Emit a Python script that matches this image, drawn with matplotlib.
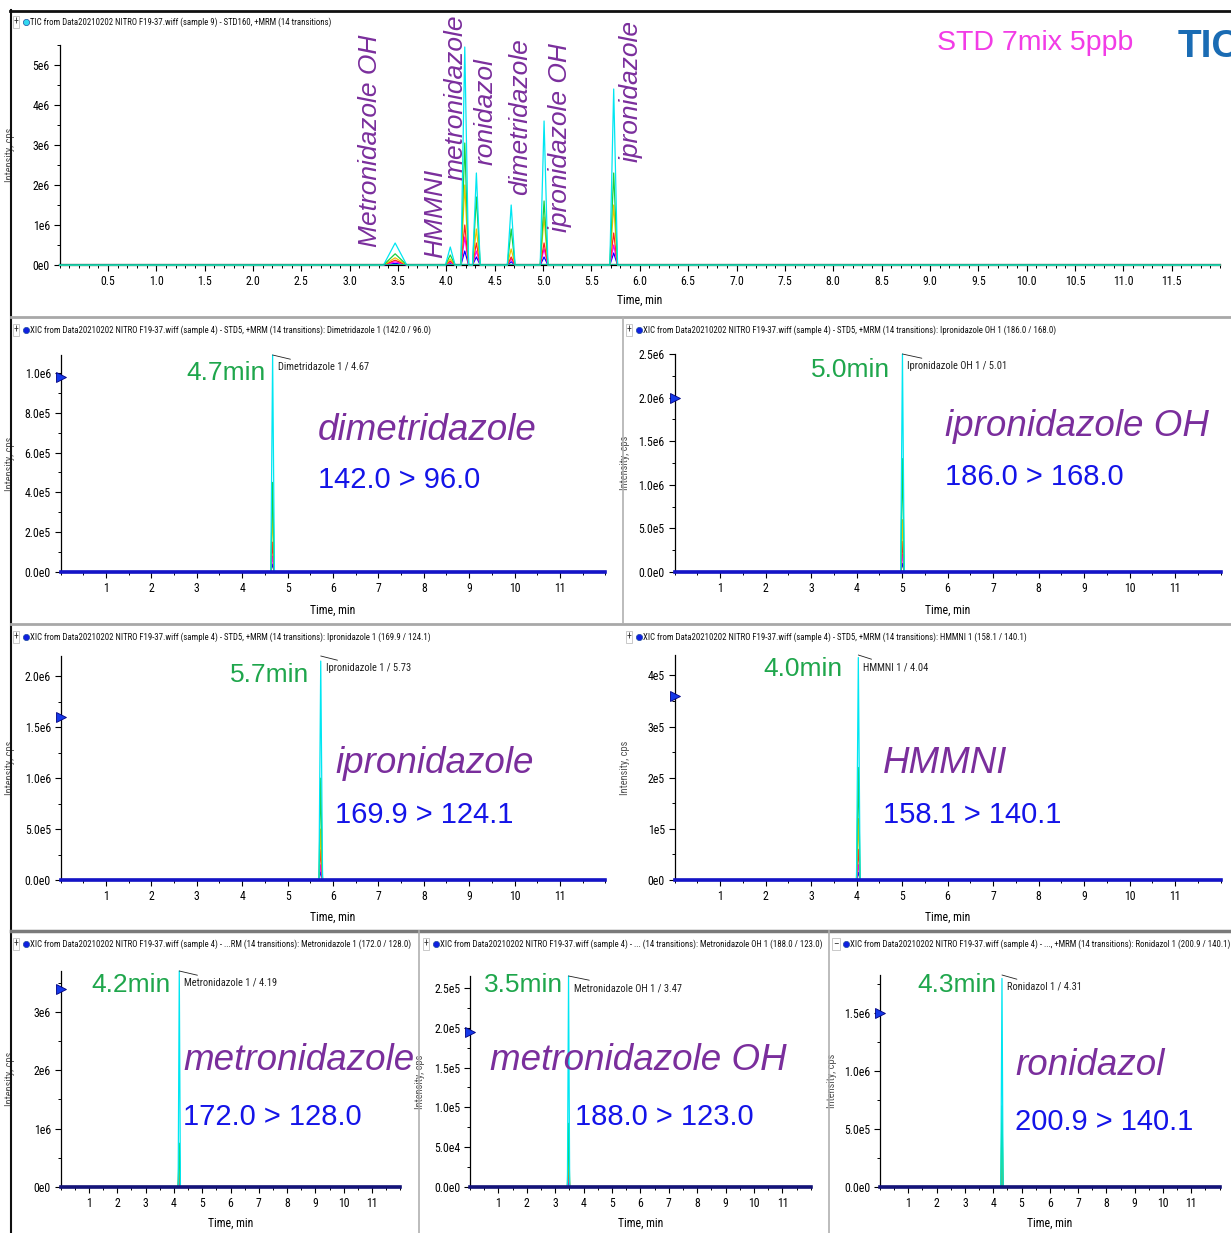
import matplotlib
matplotlib.use('Agg')
import matplotlib.pyplot as plt
from matplotlib import font_manager
from matplotlib.ticker import FixedLocator, FixedFormatter, MultipleLocator

W, H = 1231, 1233
ARIAL = ['Liberation Sans', 'DejaVu Sans']

# the instrument software uses a narrow font; take one if it is there
installed = {f.name for f in font_manager.fontManager.ttflist}
NARROW, SMALL = ['Liberation Sans', 'DejaVu Sans'], 0.80
for cand in ['Liberation Sans Narrow', 'Roboto Condensed', 'Open Sans Condensed',
             'Noto Sans Condensed']:
    if cand in installed:
        NARROW, SMALL = [cand, 'DejaVu Sans'], 1.0
        break
plt.rcParams['font.family'] = NARROW

# colours of the MRM transitions (tallest first)
trace_colors = ['#00E6F2', '#18D040', '#F2C200', '#FF2020', '#FF00FF', '#0000FF']

# ---- TIC (sample 9, STD160) ----
tic_rt = [3.47, 4.04, 4.19, 4.31, 4.67, 5.01, 5.73]
tic_width = [0.12, 0.05, 0.04, 0.04, 0.04, 0.04, 0.04]
tic_cyan = [0.55e6, 0.45e6, 5.45e6, 2.3e6, 1.5e6, 3.6e6, 4.4e6]
tic_green = [0.28e6, 0.25e6, 3.05e6, 1.7e6, 0.9e6, 1.6e6, 2.3e6]
tic_yellow = [0.18e6, 0.15e6, 2.0e6, 0.9e6, 0.4e6, 1.2e6, 1.5e6]
tic_red = [0.12e6, 0.10e6, 1.0e6, 0.55e6, 0.2e6, 0.55e6, 0.8e6]
tic_magenta = [0.08e6, 0.07e6, 0.7e6, 0.35e6, 0.15e6, 0.4e6, 0.5e6]
tic_blue = [0.04e6, 0.03e6, 0.35e6, 0.2e6, 0.08e6, 0.2e6, 0.3e6]
tic_xticks = [0.5, 1.0, 1.5, 2.0, 2.5, 3.0, 3.5, 4.0, 4.5, 5.0, 5.5, 6.0,
              6.5, 7.0, 7.5, 8.0, 8.5, 9.0, 9.5, 10.0, 10.5, 11.0, 11.5]
tic_xlabels = ['%.1f' % v for v in tic_xticks]
tic_yticks = [0, 1e6, 2e6, 3e6, 4e6, 5e6]
tic_ylabels = ['0e0', '1e6', '2e6', '3e6', '4e6', '5e6']
tic_names = ['Metronidazole OH', 'HMMNI', 'metronidazole', 'ronidazol',
             'dimetridazole', 'ipronidazole OH', 'ipronidazole']

xic_xticks = [1, 2, 3, 4, 5, 6, 7, 8, 9, 10, 11]

# ---- XIC panels (sample 4, STD5) ----
dim_rt = 4.67
dim_heights = [1.09e6, 0.45e6, 0.30e6, 0.15e6, 0.08e6, 0.04e6]
dim_yticks = [0, 2e5, 4e5, 6e5, 8e5, 1e6]
dim_ylabels = ['0.0e0', '2.0e5', '4.0e5', '6.0e5', '8.0e5', '1.0e6']

ipoh_rt = 5.01
ipoh_heights = [2.5e6, 1.3e6, 0.6e6, 0.35e6, 0.2e6, 0.1e6]
ipoh_yticks = [0, 5e5, 1e6, 1.5e6, 2e6, 2.5e6]
ipoh_ylabels = ['0.0e0', '5.0e5', '1.0e6', '1.5e6', '2.0e6', '2.5e6']

ipr_rt = 5.73
ipr_heights = [2.15e6, 1.0e6, 0.5e6, 0.3e6, 0.15e6, 0.08e6]
ipr_yticks = [0, 5e5, 1e6, 1.5e6, 2e6]
ipr_ylabels = ['0.0e0', '5.0e5', '1.0e6', '1.5e6', '2.0e6']

hmm_rt = 4.04
hmm_heights = [4.35e5, 2.2e5, 1.2e5, 0.6e5, 0.3e5, 0.15e5]
hmm_yticks = [0, 1e5, 2e5, 3e5, 4e5]
hmm_ylabels = ['0e0', '1e5', '2e5', '3e5', '4e5']

met_rt = 4.19
met_heights = [3.7e6, 0.75e6, 0.6e6, 0.3e6, 0.15e6, 0.08e6]
met_yticks = [0, 1e6, 2e6, 3e6]
met_ylabels = ['0e0', '1e6', '2e6', '3e6']

moh_rt = 3.47
moh_heights = [2.65e5, 0.8e5, 0.5e5, 0.3e5, 0.15e5, 0.08e5]
moh_yticks = [0, 5e4, 1e5, 1.5e5, 2e5, 2.5e5]
moh_ylabels = ['0.0e0', '5.0e4', '1.0e5', '1.5e5', '2.0e5', '2.5e5']

ron_rt = 4.31
ron_heights = [1.8e6, 0.7e6, 0.55e6, 0.25e6, 0.15e6, 0.07e6]
ron_yticks = [0, 5e5, 1e6, 1.5e6]
ron_ylabels = ['0.0e0', '5.0e5', '1.0e6', '1.5e6']

marker_levels = [0.98e6, 2.0e6, 1.6e6, 3.6e5, 3.4e6, 1.95e5, 1.5e6]

headers = [
    'TIC from Data20210202 NITRO F19-37.wiff (sample 9) - STD160, +MRM (14 transitions)',
    'XIC from Data20210202 NITRO F19-37.wiff (sample 4) - STD5, +MRM (14 transitions): Dimetridazole 1 (142.0 / 96.0)',
    'XIC from Data20210202 NITRO F19-37.wiff (sample 4) - STD5, +MRM (14 transitions): Ipronidazole OH 1 (186.0 / 168.0)',
    'XIC from Data20210202 NITRO F19-37.wiff (sample 4) - STD5, +MRM (14 transitions): Ipronidazole 1 (169.9 / 124.1)',
    'XIC from Data20210202 NITRO F19-37.wiff (sample 4) - STD5, +MRM (14 transitions): HMMNI 1 (158.1 / 140.1)',
    'XIC from Data20210202 NITRO F19-37.wiff (sample 4) - ...RM (14 transitions): Metronidazole 1 (172.0 / 128.0)',
    'XIC from Data20210202 NITRO F19-37.wiff (sample 4) - ... (14 transitions): Metronidazole OH 1 (188.0 / 123.0)',
    'XIC from Data20210202 NITRO F19-37.wiff (sample 4) - ..., +MRM (14 transitions): Ronidazol 1 (200.9 / 140.1)',
]
peak_labels = ['Dimetridazole 1 / 4.67', 'Ipronidazole OH 1 / 5.01', 'Ipronidazole 1 / 5.73',
               'HMMNI 1 / 4.04', 'Metronidazole 1 / 4.19', 'Metronidazole OH 1 / 3.47',
               'Ronidazol 1 / 4.31']
compounds = ['dimetridazole', 'ipronidazole OH', 'ipronidazole', 'HMMNI',
             'metronidazole', 'metronidazole OH', 'ronidazol']
transitions = ['142.0 > 96.0', '186.0 > 168.0', '169.9 > 124.1', '158.1 > 140.1',
               '172.0 > 128.0', '188.0 > 123.0', '200.9 > 140.1']
rt_texts = ['4.7min', '5.0min', '5.7min', '4.0min', '4.2min', '3.5min', '4.3min']

PURPLE = '#7A2E9C'
GREEN = '#1FA64C'
BLUE = '#1414E8'


def px_axes(fig, x0, x1, y0, ytop):
    return fig.add_axes([x0 / W, 1 - y0 / H, (x1 - x0) / W, (y0 - ytop) / H])


def draw_trace(ax, rts, widths, heights, color, lw, xmax=12.0):
    xs, ys = [0], [0]
    for rt, w, h in zip(rts, widths, heights):
        xs += [rt - w, rt, rt + w]
        ys += [0, h, 0]
    xs.append(xmax)
    ys.append(0)
    ax.plot(xs, ys, color=color, lw=lw, zorder=3, clip_on=False)


def style_axes(ax, xt, xl, yt, yl, ymax, xminor, yminor):
    ax.set_xlim(0, 12.0)
    ax.set_ylim(0, ymax)
    for s in ['top', 'right']:
        ax.spines[s].set_visible(False)
    ax.spines['left'].set_linewidth(0.9)
    ax.spines['bottom'].set_linewidth(1.6)
    ax.xaxis.set_major_locator(FixedLocator(xt))
    ax.xaxis.set_major_formatter(FixedFormatter(xl))
    ax.yaxis.set_major_locator(FixedLocator(yt))
    ax.yaxis.set_major_formatter(FixedFormatter(yl))
    ax.xaxis.set_minor_locator(MultipleLocator(xminor))
    ax.yaxis.set_minor_locator(MultipleLocator(yminor))
    ax.tick_params(which='major', direction='out', length=4, width=0.8,
                   labelsize=8.5 * SMALL, pad=3)
    ax.tick_params(which='minor', direction='out', length=2, width=0.7)
    ax.patch.set_alpha(0)


def axis_titles(ax, x0, x1, y0, ytop, ylab_x, xlab_y):
    ax.set_xlabel('Time, min', fontsize=8.5 * SMALL)
    ax.xaxis.set_label_coords(0.5, -(xlab_y - y0) / (y0 - ytop))
    ax.set_ylabel('Intensity, cps', fontsize=7.5 * SMALL, color='#505050')
    ax.yaxis.set_label_coords((ylab_x - x0) / (x1 - x0), 0.5)


fig = plt.figure(figsize=(W / 100, H / 100), dpi=100)

# ---- TIC panel ----
ax = px_axes(fig, 59.6, 1220, 265, 45)
style_axes(ax, tic_xticks, tic_xlabels, tic_yticks, tic_ylabels, 5.5e6, 0.1, 5e5)
tic_sets = [tic_cyan, tic_green, tic_yellow, tic_red, tic_magenta, tic_blue]
for c, hs in reversed(list(zip(trace_colors, tic_sets))):
    draw_trace(ax, tic_rt, tic_width, hs, c, 0.9)
ax.plot([0, 12], [0, 0], color='#18B898', lw=1.4, zorder=4)
axis_titles(ax, 59.6, 1220, 265, 45, 15, 294)

# ---- XIC panels ----
geom = [
    (60.6, 605.4, 572, 355, 1.09e6, 15, 604),
    (674.5, 1220.5, 572, 354, 2.5e6, 630, 604),
    (60.6, 605.4, 880, 656, 2.2e6, 15, 911),
    (674.5, 1220.5, 880, 655, 4.4e5, 630, 911),
    (60.7, 400.3, 1187, 971, 3.7e6, 15, 1217),
    (470.0, 810.8, 1187, 976, 2.65e5, 425, 1217),
    (880.0, 1219.6, 1187, 975, 1.83e6, 837, 1217),
]
xic_rt = [dim_rt, ipoh_rt, ipr_rt, hmm_rt, met_rt, moh_rt, ron_rt]
xic_heights = [dim_heights, ipoh_heights, ipr_heights, hmm_heights,
               met_heights, moh_heights, ron_heights]
xic_yt = [dim_yticks, ipoh_yticks, ipr_yticks, hmm_yticks, met_yticks, moh_yticks, ron_yticks]
xic_yl = [dim_ylabels, ipoh_ylabels, ipr_ylabels, hmm_ylabels, met_ylabels,
          moh_ylabels, ron_ylabels]

for i, (x0, x1, y0, yt, ymax, ylx, xly) in enumerate(geom):
    ax = px_axes(fig, x0, x1, y0, yt)
    step = xic_yt[i][1]
    style_axes(ax, xic_xticks, [str(v) for v in xic_xticks], xic_yt[i], xic_yl[i],
               ymax, 0.5, step / 2)
    for c, h in reversed(list(zip(trace_colors, xic_heights[i]))):
        draw_trace(ax, [xic_rt[i]], [0.04], [h], c, 0.9)
    base = '#1414C8' if i < 4 else '#14147A'
    ax.plot([0, 12], [0, 0], color=base, lw=2.6, zorder=4, clip_on=False)
    ax.plot(0.0, marker_levels[i], marker='>', ms=7, color='#1438E8', mec='#000080',
            mew=0.6, clip_on=False, zorder=5)
    ax.annotate(peak_labels[i], xy=(xic_rt[i], ymax), xytext=(5, -15),
                textcoords='offset pixels', fontsize=7.5 * SMALL, color='#202020',
                arrowprops=dict(arrowstyle='-', lw=0.6, color='#202020',
                                shrinkA=0, shrinkB=0))
    axis_titles(ax, x0, x1, y0, yt, ylx, xly)

# ---- overlay: frames, headers and annotations in pixel units ----
ov = fig.add_axes([0, 0, 1, 1])
ov.set_xlim(0, W)
ov.set_ylim(H, 0)
ov.axis('off')
ov.set_zorder(10)
ov.patch.set_alpha(0)

ov.plot([10, W], [11, 11], color='#101010', lw=2)
ov.plot([10.5, 10.5], [10, H], color='#101010', lw=1.5)
for y in [316.5, 623.5]:
    ov.plot([11, W], [y, y], color='#A8A8A8', lw=2)
ov.plot([11, W], [930.5, 930.5], color='#7A7A7A', lw=2.5)
ov.plot([623, 623], [317, 623], color='#B0B0B0', lw=1.2)
ov.plot([419, 419], [931, H], color='#B0B0B0', lw=1.2)
ov.plot([829, 829], [931, H], color='#B0B0B0', lw=1.2)

header_pos = [(30, 22, '#30D8F0'), (30, 330, '#1020E0'), (643, 330, '#1020E0'),
              (30, 637, '#1020E0'), (643, 637, '#1020E0'), (30, 944, '#1020E0'),
              (440, 944, '#1020E0'), (850, 944, '#1020E0')]
for k, ((hx, hy, dot), txt) in enumerate(zip(header_pos, headers)):
    sign = '\u2013' if k == 7 else '+'
    ov.text(hx - 14, hy, sign, fontsize=7, ha='center', va='center', color='#303030',
            bbox=dict(boxstyle='square,pad=0.1', fc='white', ec='#C0C0C0', lw=0.6))
    ov.plot(hx - 4.5, hy, marker='o', ms=4.5, color=dot, mec='#2050A0', mew=0.5)
    ov.text(hx, hy, txt, fontsize=6.3 * SMALL, ha='left', va='center',
            color='#101010')

# TIC compound labels
tic_label_pos = [(377, 247), (442, 258), (463, 180), (493, 165), (527, 195),
                 (567, 232), (638, 162)]
for (lx, ly), name in zip(tic_label_pos, tic_names):
    ov.text(lx, ly, name, rotation=90, rotation_mode='anchor', ha='left',
            va='baseline', fontsize=19, style='italic', color=PURPLE, family=ARIAL)

ov.text(937, 50, 'STD 7mix 5ppb', fontsize=20.5, color='#F23CE6', family=ARIAL)
ov.text(1178, 57, 'TIC', fontsize=28, color='#1A6CB4', weight='bold', family=ARIAL)

# XIC annotations
rt_pos = [(266, 380), (890, 377), (309, 682), (842, 676), (171, 992), (563, 992), (996, 992)]
name_pos = [(318, 440), (945, 436), (335, 773), (883, 773), (183, 1070), (490, 1070),
            (1015, 1075)]
trans_pos = [(318, 488), (945, 485), (335, 823), (883, 823), (183, 1125), (575, 1125),
             (1015, 1130)]
for i in range(7):
    ov.text(rt_pos[i][0], rt_pos[i][1], rt_texts[i], ha='right', fontsize=19,
            color=GREEN, family=ARIAL)
    ov.text(name_pos[i][0], name_pos[i][1], compounds[i], fontsize=26.5,
            style='italic', color=PURPLE, family=ARIAL)
    ov.text(trans_pos[i][0], trans_pos[i][1], transitions[i], fontsize=21,
            color=BLUE, family=ARIAL)

fig.savefig('out.png', dpi=100)
